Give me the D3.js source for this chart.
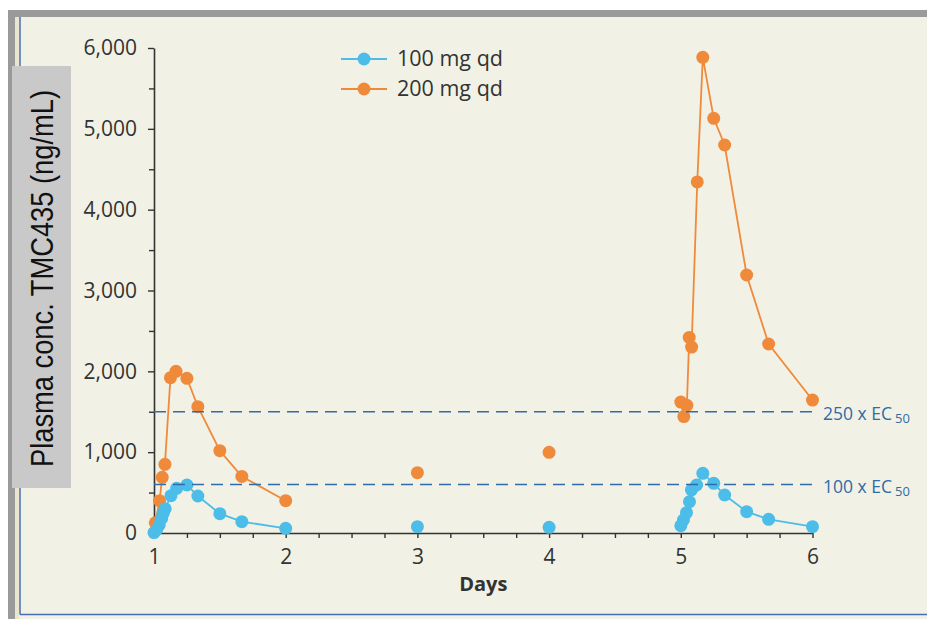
<!DOCTYPE html>
<html>
<head>
<meta charset="utf-8">
<script src="https://cdn.jsdelivr.net/npm/d3@7/dist/d3.min.js"></script>
<style>
  html, body { margin: 0; padding: 0; background: #ffffff; }
  svg { display: block; }
</style>
</head>
<body>
<svg id="chart" width="927" height="619"></svg>
<script>
// ---------- DATA ----------
const seriesNames = ["100 mg qd", "200 mg qd"];
const seriesColors = ["#4CBDE9", "#F08A3B"];

// 100 mg qd: day 1 profile, troughs, day 5 profile
const blueDay1Times = [1.0, 1.02, 1.04, 1.058, 1.07, 1.085, 1.129, 1.172, 1.25, 1.333, 1.5, 1.667, 2.0];
const blueDay1Conc  = [5, 40, 100, 180, 245, 300, 462, 553, 594, 458, 239, 140, 58];
const blueTroughTimes = [3, 4];
const blueTroughConc  = [78, 70];
const blueDay5Times = [5.0, 5.02, 5.043, 5.066, 5.081, 5.12, 5.167, 5.25, 5.333, 5.5, 5.667, 6.0];
const blueDay5Conc  = [90, 161, 251, 387, 532, 594, 738, 615, 470, 264, 169, 78];

// 200 mg qd
const orangeDay1Times = [1.01, 1.042, 1.0625, 1.083, 1.125, 1.167, 1.25, 1.333, 1.5, 1.667, 2.0];
const orangeDay1Conc  = [127, 400, 689, 850, 1922, 2000, 1914, 1563, 1018, 700, 400];
const orangeTroughTimes = [3, 4];
const orangeTroughConc  = [746, 998];
const orangeDay5Times = [5.0, 5.023, 5.046, 5.064, 5.082, 5.125, 5.167, 5.25, 5.333, 5.5, 5.667, 6.0];
const orangeDay5Conc  = [1620, 1440, 1580, 2420, 2300, 4343, 5885, 5130, 4800, 3192, 2338, 1645];

// reference lines
const refValues = [1500, 600];
const refLabels = ["250 x EC", "100 x EC"];
const refSub = "50";

// axes
const yTicks = [0, 1000, 2000, 3000, 4000, 5000, 6000];
const yMinorTicks = [500, 1500, 2500, 3500, 4500, 5500];
const xTicks = [1, 2, 3, 4, 5, 6];
const xMinorTicks = [1.25, 1.5, 1.75, 2.25, 2.5, 2.75, 3.25, 3.5, 3.75, 4.25, 4.5, 4.75, 5.25, 5.5, 5.75];
const xTitle = "Days";
const yTitle = "Plasma conc. TMC435 (ng/mL)";

// ---------- DRAW ----------
const svg = d3.select("#chart");
const font = "'Open Sans', 'Noto Sans', sans-serif";

// frame
svg.append("rect").attr("x", 8).attr("y", 10).attr("width", 919).attr("height", 609).attr("fill", "#9a9a9a");
svg.append("rect").attr("x", 15).attr("y", 17).attr("width", 912).attr("height", 602).attr("fill", "#F2F1E6");
svg.append("rect").attr("x", 15).attr("y", 17).attr("width", 4).attr("height", 602).attr("fill", "#EAE5CF");
svg.append("line").attr("x1", 20).attr("x2", 20).attr("y1", 17).attr("y2", 614.5)
  .attr("stroke", "#4a6db3").attr("stroke-width", 1.5);
svg.append("line").attr("x1", 20).attr("x2", 927).attr("y1", 614.5).attr("y2", 614.5)
  .attr("stroke", "#4a6db3").attr("stroke-width", 1.5);

const x = d3.scaleLinear().domain([1, 6]).range([154, 812.5]);
const y = d3.scaleLinear().domain([0, 6000]).range([533, 48]);

// y axis
svg.append("g").attr("transform", `translate(${x(1)},0)`)
  .call(d3.axisLeft(y).tickValues(yTicks).tickFormat(d3.format(",")).tickSize(6).tickSizeOuter(0).tickPadding(11));
svg.append("g").attr("transform", `translate(${x(1)},0)`)
  .call(d3.axisLeft(y).tickValues(yMinorTicks).tickFormat("").tickSize(5).tickSizeOuter(0))
  .select(".domain").remove();

// x axis
svg.append("g").attr("transform", `translate(0,${y(0)})`)
  .call(d3.axisBottom(x).tickValues(xTicks).tickFormat(d3.format("d")).tickSize(5).tickSizeOuter(0).tickPadding(11));
svg.append("g").attr("transform", `translate(0,${y(0)})`)
  .call(d3.axisBottom(x).tickValues(xMinorTicks).tickFormat("").tickSize(5).tickSizeOuter(0))
  .select(".domain").remove();

svg.selectAll(".domain").attr("stroke", "#333").attr("stroke-width", 1.6);
svg.selectAll(".tick line").attr("stroke", "#333").attr("stroke-width", 1.4);
svg.selectAll(".tick text").attr("fill", "#333").style("font-family", font).style("font-size", "21px");

// axis titles
svg.append("text").attr("x", x(3.5)).attr("y", 591).attr("text-anchor", "middle")
  .style("font-family", font).style("font-size", "20px").style("font-weight", "bold").attr("fill", "#333")
  .text(xTitle);

svg.append("rect").attr("x", 12).attr("y", 66).attr("width", 59).attr("height", 422).attr("fill", "#C9C9C9");
svg.append("text").attr("transform", "translate(53,278.5) rotate(-90)").attr("text-anchor", "middle")
  .style("font-family", "'Liberation Sans Narrow', 'Liberation Sans', Arial, sans-serif")
  .style("font-size", "31px").attr("fill", "#111")
  .attr("textLength", 377).attr("lengthAdjust", "spacingAndGlyphs")
  .text(yTitle);

// series
const line = d3.line().x(d => x(d[0])).y(d => y(d[1]));
const zip = (t, c) => t.map((v, i) => [v, c[i]]);

const series = [
  { color: seriesColors[1], segs: [zip(orangeDay1Times, orangeDay1Conc), zip(orangeDay5Times, orangeDay5Conc)], pts: zip(orangeTroughTimes, orangeTroughConc) },
  { color: seriesColors[0], segs: [zip(blueDay1Times, blueDay1Conc), zip(blueDay5Times, blueDay5Conc)], pts: zip(blueTroughTimes, blueTroughConc) }
];

series.forEach(s => {
  const g = svg.append("g");
  s.segs.forEach(seg => {
    g.append("path").datum(seg).attr("d", line).attr("fill", "none")
      .attr("stroke", s.color).attr("stroke-width", 1.8);
  });
  const all = s.segs.flat().concat(s.pts);
  g.selectAll("circle").data(all).join("circle")
    .attr("cx", d => x(d[0])).attr("cy", d => y(d[1])).attr("r", 6.5).attr("fill", s.color);
});

// reference lines
refValues.forEach((v, i) => {
  svg.append("line").attr("x1", x(1)).attr("x2", x(6)).attr("y1", y(v)).attr("y2", y(v))
    .attr("stroke", "#2F6CA8").attr("stroke-width", 1.6).attr("stroke-dasharray", "12,7");
  const t = svg.append("text").attr("x", 823).attr("y", y(v) + 8)
    .style("font-family", font).style("font-size", "17.5px").attr("fill", "#2F6CA8");
  t.append("tspan").text(refLabels[i]);
  t.append("tspan").attr("dx", 3).attr("dy", 3).style("font-size", "13px").text(refSub);
});

// legend
const legY = [59, 89];
[0, 1].forEach(i => {
  svg.append("line").attr("x1", 341).attr("x2", 387).attr("y1", legY[i]).attr("y2", legY[i])
    .attr("stroke", seriesColors[i]).attr("stroke-width", 1.8);
  svg.append("circle").attr("cx", 364).attr("cy", legY[i]).attr("r", 6.5).attr("fill", seriesColors[i]);
  svg.append("text").attr("x", 397).attr("y", legY[i] + 7)
    .style("font-family", font).style("font-size", "21.5px").attr("fill", "#333")
    .text(seriesNames[i]);
});
</script>
</body>
</html>
